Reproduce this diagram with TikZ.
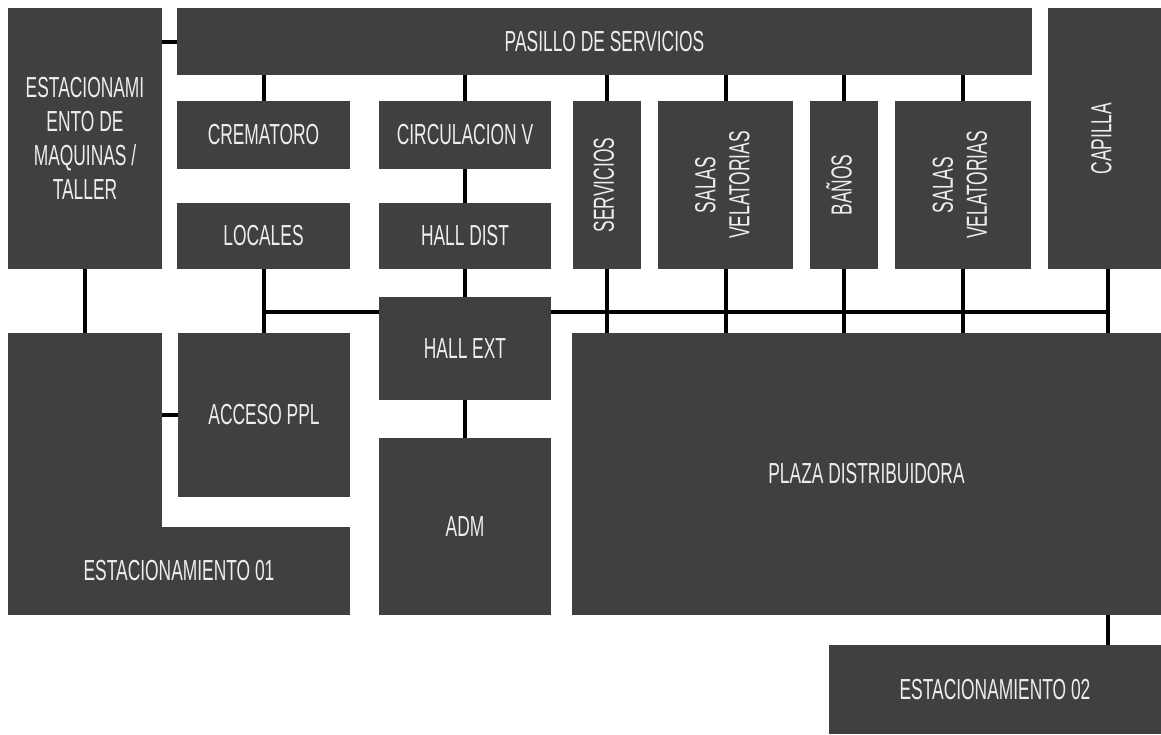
\documentclass[tikz,border=0pt]{standalone}
\usepackage{fontspec}
\setmainfont[FakeStretch=0.6]{Liberation Sans}
\usepackage{graphicx}
\usepackage{tikz}
\definecolor{plangray}{HTML}{404040}
\newcommand{\vtxt}[1]{\rotatebox{90}{\begin{tabular}{@{}c@{}}#1\end{tabular}}}

\begin{document}
\begin{tikzpicture}[x=1pt,y=-1pt,
  bx/.style={fill=plangray,text=white!93!black,inner sep=0pt,outer sep=0pt,anchor=north west,align=center,font=\fontsize{29}{34}\selectfont},
  ln/.style={line width=4pt,draw=black}]
\fill[white] (0,0) rectangle (1161,734);
\useasboundingbox (0,0) rectangle (1161,734);
% top row
\node[bx,minimum width=154,minimum height=261] (maq) at (8,8) {ESTACIONAMI\\ENTO DE\\MAQUINAS /\\TALLER};
\node[bx,minimum width=855,minimum height=67] (pas) at (177,8) {PASILLO DE SERVICIOS};
\node[bx,minimum width=113,minimum height=261] (cap) at (1048,8) {\vtxt{CAPILLA}};
% rooms under the corridor
\node[bx,minimum width=173,minimum height=68] (crem) at (177,101) {CREMATORO};
\node[bx,minimum width=172,minimum height=68] (circ) at (379,101) {CIRCULACION V};
\node[bx,minimum width=68,minimum height=168] (serv) at (573,101) {\vtxt{SERVICIOS}};
\node[bx,minimum width=135,minimum height=168] (sal1) at (658,101) {\vtxt{SALAS\\VELATORIAS}};
\node[bx,minimum width=68,minimum height=168] (ban) at (810,101) {\vtxt{BAÑOS}};
\node[bx,minimum width=136,minimum height=168] (sal2) at (895,101) {\vtxt{SALAS\\VELATORIAS}};
\node[bx,minimum width=173,minimum height=66] (loc) at (177,203) {LOCALES};
\node[bx,minimum width=172,minimum height=66] (hdist) at (379,203) {HALL DIST};
% lower part
\node[bx,minimum width=172,minimum height=103] (hext) at (379,297) {HALL EXT};
\node[bx,minimum width=172,minimum height=177] (adm) at (379,438) {ADM};
\node[bx,minimum width=172,minimum height=164] (acc) at (178,333) {ACCESO PPL};
\node[bx,minimum width=589,minimum height=282] (plaza) at (572,333) {PLAZA DISTRIBUIDORA};
\node[bx,minimum width=332,minimum height=89] (est2) at (829,645) {ESTACIONAMIENTO 02};
\node[bx,minimum width=154,minimum height=282] (est1a) at (8,333) {};
\node[bx,minimum width=342,minimum height=88] (est1) at (8,527) {ESTACIONAMIENTO 01};
% connectors
\coordinate (bus) at (0,312);
\coordinate (capx) at (1108,0);
\draw[ln] (maq.east |- pas.west) -- (pas.west);
\foreach \b in {crem,circ,serv,sal1,ban,sal2}
  \draw[ln] (\b.north) -- (\b.north |- pas.south);
\draw[ln] (circ.south) -- (hdist.north);
\draw[ln] (hdist.south) -- (hext.north);
\draw[ln] (hext.south) -- (adm.north);
\draw[ln] (maq.south) -- (maq.south |- est1a.north);
\draw[ln] (loc.south) -- (loc.south |- acc.north);
\draw[ln] (loc.south |- bus) -- (hext.west |- bus);
\draw[ln] (hext.east |- bus) -- (capx |- bus);
\foreach \b in {serv,sal1,ban,sal2}
  \draw[ln] (\b.south) -- (\b.south |- plaza.north);
\draw[ln] (capx |- cap.south) -- (capx |- plaza.north);
\draw[ln] (capx |- plaza.south) -- (capx |- est2.north);
\draw[ln] (est1a.east |- acc.west) -- (acc.west);
\end{tikzpicture}
\end{document}
